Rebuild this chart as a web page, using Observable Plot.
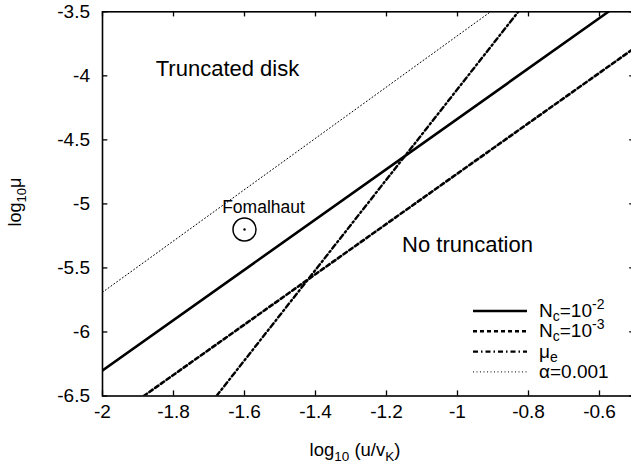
<!DOCTYPE html>
<html>
<head>
<meta charset="utf-8">
<script src="https://cdn.jsdelivr.net/npm/d3@7"></script>
<script src="https://cdn.jsdelivr.net/npm/@observablehq/plot@0.6"></script>
<style>
  html, body { margin: 0; padding: 0; background: #fff; }
  svg { display: block; }
</style>
</head>
<body>
<div id="chart"></div>
<script>
// ---- data ----
const xTicks = [-2, -1.8, -1.6, -1.4, -1.2, -1, -0.8, -0.6, -0.5];
const xTickLabels = [-2, -1.8, -1.6, -1.4, -1.2, -1, -0.8, -0.6];
const yTicks = [-6.5, -6, -5.5, -5, -4.5, -4, -3.5];

const nc2X = [-2, -0.575];      const nc2Y = [-6.3, -3.5];
const nc3X = [-1.884, -0.5];    const nc3Y = [-6.5, -3.78];
const muX  = [-1.679, -0.829];  const muY  = [-6.5, -3.5];
const alX  = [-2, -0.907];      const alY  = [-5.69, -3.5];

const fomalhaut = [{x: -1.6, y: -5.2, name: "Fomalhaut"}];
const regionLabels = [
  {x: -1.85, y: -4.0, text: "Truncated disk"},
  {x: -1.156, y: -5.373, text: "No truncation"}
];

const toRows = (xs, ys) => xs.map((x, i) => ({x, y: ys[i]}));

const styles = {
  nc2: {stroke: "black", strokeWidth: 2.6, strokeDasharray: null},
  nc3: {stroke: "black", strokeWidth: 2.6, strokeDasharray: "4,3"},
  mu:  {stroke: "black", strokeWidth: 2.4, strokeDasharray: "5,3,1.5,3"},
  al:  {stroke: "black", strokeWidth: 1, strokeDasharray: "1,2.5"}
};

const font = "'Liberation Sans', Arial, Helvetica, sans-serif";

const lineOpts = (s) => {
  const o = {x: "x", y: "y", stroke: s.stroke, strokeWidth: s.strokeWidth, clip: true};
  if (s.strokeDasharray) o.strokeDasharray = s.strokeDasharray;
  return o;
};

const chart = Plot.plot({
  width: 631,
  height: 466,
  marginLeft: 102,
  marginTop: 11.3,
  marginBottom: 70.5,
  marginRight: -3.5,
  style: {fontFamily: font, fontSize: "19px", background: "white", color: "black"},
  x: {domain: [-2, -0.5]},
  y: {domain: [-6.5, -3.5]},
  marks: [
    Plot.axisX(xTickLabels, {tickSize: 0, tickPadding: 8.5, tickFormat: d => String(d), label: null, fontSize: 19}),
    Plot.axisY(yTicks, {tickSize: 0, tickPadding: 12.5, tickFormat: d => String(d), label: null, fontSize: 19}),
    // inward ticks
    Plot.ruleX(xTicks, {x: d => d, y1: -6.5, y2: -6.5 + 0.04, stroke: "black", strokeWidth: 1.3}),
    Plot.ruleX(xTicks, {x: d => d, y1: -3.5, y2: -3.5 - 0.04, stroke: "black", strokeWidth: 1.3}),
    Plot.ruleY(yTicks, {y: d => d, x1: -2, x2: -2 + 0.015, stroke: "black", strokeWidth: 1.3}),
    Plot.ruleY(yTicks, {y: d => d, x1: -0.5, x2: -0.5 - 0.015, stroke: "black", strokeWidth: 1.3}),
    // series
    Plot.line(toRows(alX, alY), lineOpts(styles.al)),
    Plot.line(toRows(muX, muY), lineOpts(styles.mu)),
    Plot.line(toRows(nc3X, nc3Y), lineOpts(styles.nc3)),
    Plot.line(toRows(nc2X, nc2Y), lineOpts(styles.nc2)),
    // Fomalhaut
    Plot.dot(fomalhaut, {x: "x", y: "y", r: 11.5, stroke: "black", strokeWidth: 1.5, fill: "none"}),
    Plot.dot(fomalhaut, {x: "x", y: "y", r: 1.2, fill: "black", stroke: null}),
    Plot.text(fomalhaut, {x: "x", y: "y", text: "name", dx: 19, dy: -17, lineAnchor: "bottom", textAnchor: "middle", fontSize: 17.5, fill: "black"}),
    Plot.text(regionLabels, {x: "x", y: "y", text: "text", lineAnchor: "bottom", textAnchor: "start", fontSize: 22, fill: "black"}),
    Plot.frame({stroke: "black", strokeWidth: 1.6})
  ]
});

document.getElementById("chart").appendChild(chart);

// ---- axis titles and legend with sub/superscripts ----
const svg = d3.select(chart);
const g = svg.append("g").attr("font-family", font).attr("fill", "black").attr("text-anchor", "start");

// y label
const yl = g.append("text")
  .attr("transform", "translate(21,202) rotate(-90)")
  .attr("text-anchor", "middle").attr("font-size", 18);
yl.append("tspan").text("log");
yl.append("tspan").attr("font-size", 13).attr("dy", 5).text("10");
yl.append("tspan").attr("dy", -5).text("\u03bc");

// x label
const xl = g.append("text")
  .attr("x", 355).attr("y", 456)
  .attr("text-anchor", "middle").attr("font-size", 18.5);
xl.append("tspan").text("log");
xl.append("tspan").attr("font-size", 13.5).attr("dy", 5).text("10");
xl.append("tspan").attr("dy", -5).text(" (u/v");
xl.append("tspan").attr("font-size", 13.5).attr("dy", 5).text("K");
xl.append("tspan").attr("dy", -5).text(")");

// legend
const legend = [
  {key: "nc2", parts: [["N", 0], ["c", 1], ["=10", 0], ["-2", -1]]},
  {key: "nc3", parts: [["N", 0], ["c", 1], ["=10", 0], ["-3", -1]]},
  {key: "mu",  parts: [["\u03bc", 0], ["e", 1]]},
  {key: "al",  parts: [["\u03b1=0.001", 0]]}
];
legend.forEach((item, i) => {
  const yy = 311 + 20.3 * i;
  const s = styles[item.key];
  g.append("line")
    .attr("x1", 473).attr("x2", 527).attr("y1", yy).attr("y2", yy)
    .attr("stroke", s.stroke).attr("stroke-width", s.strokeWidth)
    .attr("stroke-dasharray", s.strokeDasharray || null);
  const t = g.append("text").attr("x", 539).attr("y", yy + 6)
    .attr("font-size", 19).attr("text-anchor", "start");
  let cur = 0;
  item.parts.forEach(([txt, pos]) => {
    const target = pos === 1 ? 4 : pos === -1 ? -8 : 0;
    t.append("tspan")
      .attr("dy", target - cur)
      .attr("font-size", pos === 0 ? 19 : 14)
      .text(txt);
    cur = target;
  });
});
</script>
</body>
</html>
